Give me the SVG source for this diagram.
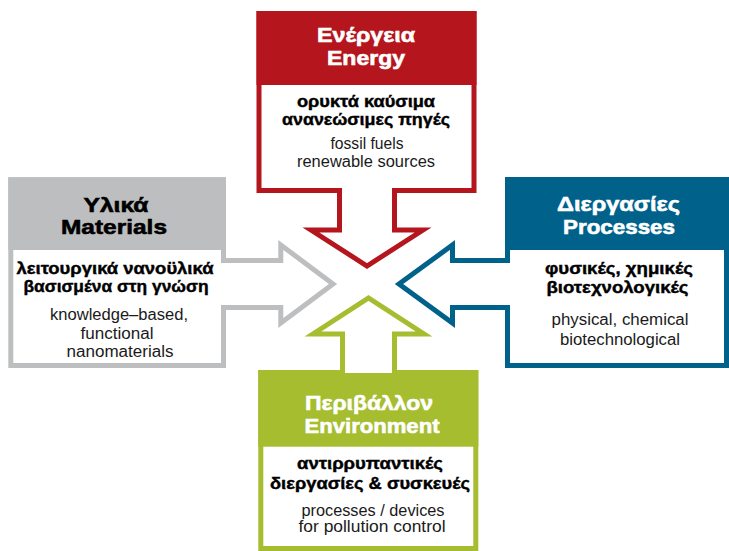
<svg xmlns="http://www.w3.org/2000/svg" width="729" height="551" viewBox="0 0 729 551">
<style>
  .box { fill: #ffffff; stroke-width: 5; }
  .arrow { fill: #ffffff; stroke-width: 5; stroke-linejoin: miter; stroke-miterlimit: 10; stroke-linecap: butt; }
  .red { stroke: #b5151d; }
  .grey { stroke: #bdbec0; }
  .blue { stroke: #00628b; }
  .green { stroke: #a5bd2f; }
  text { font-family: "Liberation Sans", Arial, "Noto Sans", sans-serif; text-anchor: middle; }
  .head { font-size: 21px; font-weight: bold; stroke-width: 0.6; }
  .hw { fill: #ffffff; stroke: #ffffff; }
  .hb { fill: #000000; stroke: #000000; }
  .bold { font-size: 16px; font-weight: bold; fill: #000000; stroke: #000000; stroke-width: 0.4; }
  .reg { font-size: 16px; fill: #1a1a1a; }
</style>

<g id="energy">
  <rect class="box red" x="259" y="13.5" width="215" height="177"/>
  <rect x="256.5" y="11" width="220" height="74" fill="#b5151d"/>
  <text class="head hw" x="366" y="42" textLength="98" lengthAdjust="spacingAndGlyphs">Ενέργεια</text>
  <text class="head hw" x="366" y="64.5" textLength="78" lengthAdjust="spacingAndGlyphs">Energy</text>
  <text class="bold" x="366" y="107" textLength="138" lengthAdjust="spacingAndGlyphs">ορυκτά καύσιμα</text>
  <text class="bold" x="366" y="124.5" textLength="168" lengthAdjust="spacingAndGlyphs">ανανεώσιμες πηγές</text>
  <text class="reg" x="367" y="149" textLength="73" lengthAdjust="spacingAndGlyphs">fossil fuels</text>
  <text class="reg" x="366" y="166.5" textLength="138" lengthAdjust="spacingAndGlyphs">renewable sources</text>
</g>

<g id="materials">
  <rect class="box grey" x="10.8" y="179.8" width="212.7" height="185.7"/>
  <rect x="8.3" y="177.3" width="217.7" height="72.7" fill="#bdbec0"/>
  <text class="head hb" x="116" y="211.5" textLength="65" lengthAdjust="spacingAndGlyphs">Υλικά</text>
  <text class="head hb" x="114" y="233.5" textLength="106" lengthAdjust="spacingAndGlyphs">Materials</text>
  <text class="bold" x="115" y="274" textLength="197" lengthAdjust="spacingAndGlyphs">λειτουργικά νανοϋλικά</text>
  <text class="bold" x="116" y="291.5" textLength="185" lengthAdjust="spacingAndGlyphs">βασισμένα στη γνώση</text>
  <text class="reg" x="119" y="320" textLength="138" lengthAdjust="spacingAndGlyphs">knowledge–based,</text>
  <text class="reg" x="117" y="338.5" textLength="73" lengthAdjust="spacingAndGlyphs">functional</text>
  <text class="reg" x="120" y="356.5" textLength="107" lengthAdjust="spacingAndGlyphs">nanomaterials</text>
</g>

<g id="processes">
  <rect class="box blue" x="507.5" y="179.5" width="219" height="186"/>
  <rect x="505" y="177" width="224" height="73" fill="#00628b"/>
  <text class="head hw" x="618.5" y="210.5" textLength="123" lengthAdjust="spacingAndGlyphs">Διεργασίες</text>
  <text class="head hw" x="619" y="234" textLength="112" lengthAdjust="spacingAndGlyphs">Processes</text>
  <text class="bold" x="619" y="274" textLength="148" lengthAdjust="spacingAndGlyphs">φυσικές, χημικές</text>
  <text class="bold" x="617.5" y="293" textLength="142" lengthAdjust="spacingAndGlyphs">βιοτεχνολογικές</text>
  <text class="reg" x="620" y="325" textLength="137" lengthAdjust="spacingAndGlyphs">physical, chemical</text>
  <text class="reg" x="620" y="345" textLength="120" lengthAdjust="spacingAndGlyphs">biotechnological</text>
</g>

<g id="environment">
  <rect class="box green" x="260.8" y="372.5" width="215" height="176"/>
  <rect x="258.3" y="370" width="220" height="76.7" fill="#a5bd2f"/>
  <text class="head hw" x="369" y="409.5" textLength="128" lengthAdjust="spacingAndGlyphs">Περιβάλλον</text>
  <text class="head hw" x="372" y="432.5" textLength="135" lengthAdjust="spacingAndGlyphs">Environment</text>
  <text class="bold" x="370" y="469" textLength="146" lengthAdjust="spacingAndGlyphs">αντιρρυπαντικές</text>
  <text class="bold" x="370" y="489" textLength="200" lengthAdjust="spacingAndGlyphs">διεργασίες &amp; συσκευές</text>
  <text class="reg" x="373" y="515.5" textLength="143" lengthAdjust="spacingAndGlyphs">processes / devices</text>
  <text class="reg" x="372" y="532" textLength="147" lengthAdjust="spacingAndGlyphs">for pollution control</text>
</g>

<g id="connectors">
  <path class="arrow red" d="M339.5,188 V230 H311 L367,266 L423,230 H394.5 V188"/>
  <path class="arrow grey" d="M221,260.5 H280.8 V245 L333,284 L280.8,323 V307.5 H221"/>
  <path class="arrow blue" d="M510,260.5 H452.5 V245 L399,284 L452.5,323 V307.5 H510"/>
  <path class="arrow green" d="M342.5,373 V334 H313 L368.5,298 L424,334 H394.5 V373"/>
</g>
</svg>
